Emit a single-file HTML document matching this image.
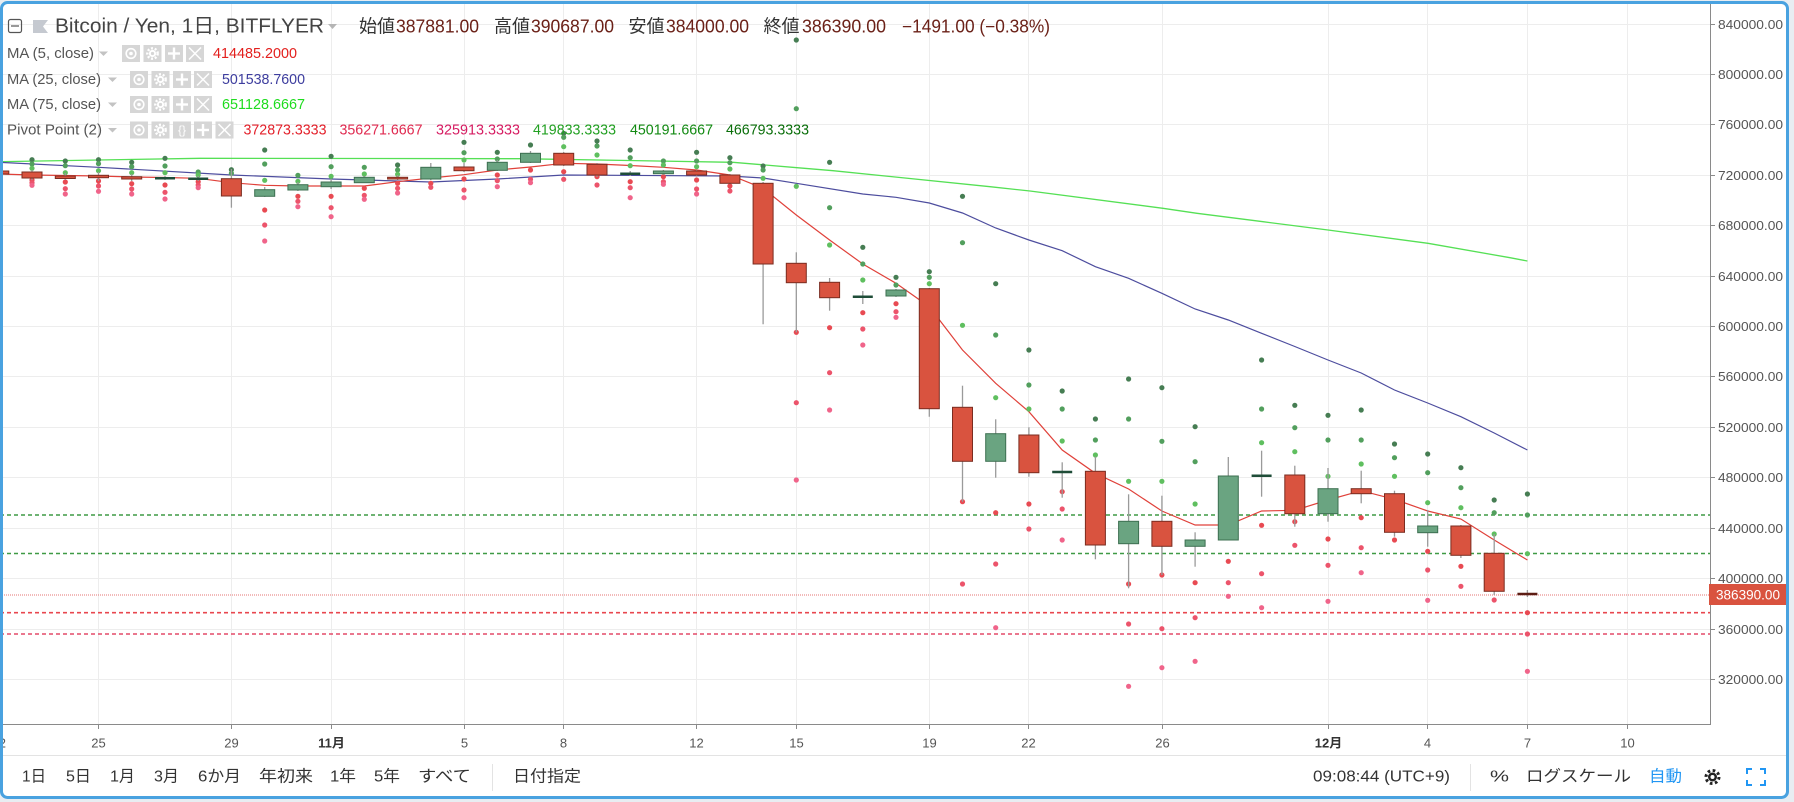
<!DOCTYPE html>
<html><head><meta charset="utf-8">
<style>
html,body{margin:0;padding:0;background:#e8edf2;}
body{width:1794px;height:802px;overflow:hidden;}
svg{display:block;font-family:"Liberation Sans","Noto Sans CJK JP",sans-serif;}
.grid line{stroke:#ededed;stroke-width:1}
.g3{fill:#467d53}.g2{fill:#529f5d}.g1{fill:#5fbf5f}
.s1{fill:#e84a52}.s2{fill:#ec546b}.s3{fill:#f0648a}
.cr{fill:#d9533f;stroke:#7a2c20;stroke-width:1}
.cg{fill:#6aa481;stroke:#3c6f50;stroke-width:1}
.wk{stroke:#9a9a9a;stroke-width:1.3}
.fg{stroke:#1f4d38;stroke-width:2.5}
.fr{stroke:#5d1d14;stroke-width:2.5}
.ax{fill:#555;font-size:13px}
.ib{fill:#d6d6d6}
.iw{stroke:#fff;fill:none}
</style></head>
<body>
<svg width="1794" height="802" viewBox="0 0 1794 802" xmlns="http://www.w3.org/2000/svg">
<defs>
<clipPath id="ca"><rect x="3" y="4" width="1707" height="720"/></clipPath>
</defs>
<rect x="1.5" y="2.5" width="1786" height="795" rx="6" fill="#fff"/>

<g clip-path="url(#ca)">
<g class="grid">
<line x1="0" x2="1710" y1="24.5" y2="24.5"/><line x1="0" x2="1710" y1="74.5" y2="74.5"/>
<line x1="0" x2="1710" y1="124.5" y2="124.5"/><line x1="0" x2="1710" y1="175.5" y2="175.5"/>
<line x1="0" x2="1710" y1="225.5" y2="225.5"/><line x1="0" x2="1710" y1="276.5" y2="276.5"/>
<line x1="0" x2="1710" y1="326.5" y2="326.5"/><line x1="0" x2="1710" y1="376.5" y2="376.5"/>
<line x1="0" x2="1710" y1="427.5" y2="427.5"/><line x1="0" x2="1710" y1="477.5" y2="477.5"/>
<line x1="0" x2="1710" y1="528.5" y2="528.5"/><line x1="0" x2="1710" y1="578.5" y2="578.5"/>
<line x1="0" x2="1710" y1="629.5" y2="629.5"/><line x1="0" x2="1710" y1="679.5" y2="679.5"/>
<line y1="0" y2="724" x1="98.5" x2="98.5"/><line y1="0" y2="724" x1="231.5" x2="231.5"/>
<line y1="0" y2="724" x1="331.5" x2="331.5"/><line y1="0" y2="724" x1="464.5" x2="464.5"/>
<line y1="0" y2="724" x1="563.5" x2="563.5"/><line y1="0" y2="724" x1="696.5" x2="696.5"/>
<line y1="0" y2="724" x1="796.5" x2="796.5"/><line y1="0" y2="724" x1="929.5" x2="929.5"/>
<line y1="0" y2="724" x1="1028.5" x2="1028.5"/><line y1="0" y2="724" x1="1162.5" x2="1162.5"/>
<line y1="0" y2="724" x1="1328.5" x2="1328.5"/><line y1="0" y2="724" x1="1427.5" x2="1427.5"/>
<line y1="0" y2="724" x1="1527.5" x2="1527.5"/><line y1="0" y2="724" x1="1627.5" x2="1627.5"/>
</g>

<!-- pivot lines -->
<line x1="0" x2="1710" y1="515" y2="515" stroke="#3f9a45" stroke-width="1.6" stroke-dasharray="4,3"/>
<line x1="0" x2="1710" y1="553.5" y2="553.5" stroke="#3f9a45" stroke-width="1.6" stroke-dasharray="4,3"/>
<line x1="0" x2="1710" y1="612.7" y2="612.7" stroke="#e8474f" stroke-width="1.6" stroke-dasharray="4,3"/>
<line x1="0" x2="1710" y1="634" y2="634" stroke="#e44a68" stroke-width="1.6" stroke-dasharray="4,3"/>
<line x1="0" x2="1710" y1="595" y2="595" stroke="#e57373" stroke-width="1" stroke-dasharray="1,1"/>

<!-- MA lines -->
<polyline fill="none" stroke="#55e055" stroke-width="1.3" points="-1.2,161.7 200,158.3 520,158.7 733,162.3 797,167.7 833,170.7 990,186.7 1030,191 1163,208.3 1197,213.3 1263,221.7 1328,230 1428,243.3 1510,257.7 1527.4,261"/>
<polyline fill="none" stroke="#4d4d9e" stroke-width="1.2" points="-1.2,162.3 98.5,167.3 231.4,175 331.1,179 430.8,182 497.3,179 563.7,175 729.9,176 763.1,178 796.3,183.3 862.8,194 896,197.3 929.3,203 962.5,213 995.7,228 1028.9,240 1062.2,250.7 1095.4,266.7 1128.6,278.3 1161.9,293.3 1195.1,309 1228.3,320 1261.6,333.3 1294.8,346.5 1328,360 1361.2,373 1394.5,390 1427.7,403 1460.9,416.7 1494.2,433 1527.4,450"/>
<polyline fill="none" stroke="#e0413a" stroke-width="1.2" points="-1.2,174 32,175 65.3,175.5 98.5,176 131.7,177 165,177.5 198.2,178.3 231.4,182.7 264.7,185.3 297.9,186 331.1,186 364.3,186 397.6,181.7 430.8,178 464,174.7 497.3,170 530.5,167 563.7,163.3 597,164 630.2,165.5 663.4,167.3 696.6,170 729.9,175 763.1,188.3 796.3,215 829.6,240 862.8,264 896,283.3 929.3,306.7 962.5,350 995.7,383.3 1028.9,411.7 1062.2,450 1095.4,473.3 1128.6,489 1161.9,511 1195.1,525 1228.3,525 1261.6,511 1294.8,510.3 1328,500 1361.2,490.7 1394.5,499.3 1427.7,511 1460.9,519 1494.2,540 1527.4,560"/>

<!-- pivot dots -->
<g>
<circle class="g3" cx="32" cy="159.7" r="2.6"/><circle class="g2" cx="32" cy="164" r="2.6"/><circle class="g1" cx="32" cy="168.3" r="2.6"/><circle class="s1" cx="32" cy="180" r="2.6"/><circle class="s2" cx="32" cy="182.7" r="2.6"/><circle class="s3" cx="32" cy="185.3" r="2.6"/>
<circle class="g3" cx="65.3" cy="161" r="2.6"/><circle class="g2" cx="65.3" cy="165.7" r="2.6"/><circle class="g1" cx="65.3" cy="172.7" r="2.6"/><circle class="s1" cx="65.3" cy="182" r="2.6"/><circle class="s2" cx="65.3" cy="188.7" r="2.6"/><circle class="s3" cx="65.3" cy="194" r="2.6"/>
<circle class="g3" cx="98.5" cy="159.7" r="2.6"/><circle class="g2" cx="98.5" cy="163.7" r="2.6"/><circle class="g1" cx="98.5" cy="170.7" r="2.6"/><circle class="s1" cx="98.5" cy="181" r="2.6"/><circle class="s2" cx="98.5" cy="186" r="2.6"/><circle class="s3" cx="98.5" cy="191.3" r="2.6"/>
<circle class="g3" cx="131.7" cy="162.3" r="2.6"/><circle class="g2" cx="131.7" cy="166.7" r="2.6"/><circle class="g1" cx="131.7" cy="172.7" r="2.6"/><circle class="s1" cx="131.7" cy="183.7" r="2.6"/><circle class="s2" cx="131.7" cy="189" r="2.6"/><circle class="s3" cx="131.7" cy="194" r="2.6"/>
<circle class="g3" cx="165" cy="158.3" r="2.6"/><circle class="g2" cx="165" cy="166" r="2.6"/><circle class="g1" cx="165" cy="172.7" r="2.6"/><circle class="s1" cx="165" cy="185" r="2.6"/><circle class="s2" cx="165" cy="192.3" r="2.6"/><circle class="s3" cx="165" cy="199" r="2.6"/>
<circle class="g2" cx="198.2" cy="172" r="2.6"/><circle class="g1" cx="198.2" cy="175" r="2.6"/><circle class="s1" cx="198.2" cy="181.7" r="2.6"/><circle class="s2" cx="198.2" cy="185" r="2.6"/><circle class="s3" cx="198.2" cy="187.7" r="2.6"/>
<circle class="g3" cx="231.4" cy="169.7" r="2.6"/><circle class="g2" cx="231.4" cy="173.3" r="2.6"/>
<circle class="g3" cx="264.7" cy="150" r="2.6"/><circle class="g2" cx="264.7" cy="164" r="2.6"/><circle class="g1" cx="264.7" cy="180.3" r="2.6"/><circle class="s1" cx="264.7" cy="210" r="2.6"/><circle class="s2" cx="264.7" cy="225" r="2.6"/><circle class="s3" cx="264.7" cy="241" r="2.6"/>
<circle class="g2" cx="297.9" cy="175.3" r="2.6"/><circle class="g1" cx="297.9" cy="181.3" r="2.6"/><circle class="s1" cx="297.9" cy="196.3" r="2.6"/><circle class="s2" cx="297.9" cy="201.3" r="2.6"/><circle class="s3" cx="297.9" cy="206.7" r="2.6"/>
<circle class="g3" cx="331.1" cy="156.3" r="2.6"/><circle class="g2" cx="331.1" cy="166.7" r="2.6"/><circle class="g1" cx="331.1" cy="176.3" r="2.6"/><circle class="s1" cx="331.1" cy="196.3" r="2.6"/><circle class="s2" cx="331.1" cy="207.7" r="2.6"/><circle class="s3" cx="331.1" cy="216.7" r="2.6"/>
<circle class="g2" cx="364.3" cy="167.3" r="2.6"/><circle class="g1" cx="364.3" cy="174" r="2.6"/><circle class="s1" cx="364.3" cy="188.3" r="2.6"/><circle class="s2" cx="364.3" cy="195.3" r="2.6"/><circle class="s3" cx="364.3" cy="199.3" r="2.6"/>
<circle class="g3" cx="397.6" cy="165" r="2.6"/><circle class="g2" cx="397.6" cy="170" r="2.6"/><circle class="g1" cx="397.6" cy="174.3" r="2.6"/><circle class="s1" cx="397.6" cy="183.3" r="2.6"/><circle class="s2" cx="397.6" cy="188.3" r="2.6"/><circle class="s3" cx="397.6" cy="193" r="2.6"/>
<circle class="s1" cx="430.8" cy="183.3" r="2.6"/><circle class="s2" cx="430.8" cy="187.3" r="2.6"/>
<circle class="g3" cx="464" cy="142.3" r="2.6"/><circle class="g2" cx="464" cy="152.7" r="2.6"/><circle class="g1" cx="464" cy="160" r="2.6"/><circle class="s1" cx="464" cy="179" r="2.6"/><circle class="s2" cx="464" cy="190" r="2.6"/><circle class="s3" cx="464" cy="197.7" r="2.6"/>
<circle class="g3" cx="497.3" cy="152.3" r="2.6"/><circle class="g2" cx="497.3" cy="159" r="2.6"/><circle class="s1" cx="497.3" cy="175" r="2.6"/><circle class="s2" cx="497.3" cy="180.7" r="2.6"/><circle class="s3" cx="497.3" cy="186.7" r="2.6"/>
<circle class="g3" cx="530.5" cy="145" r="2.6"/><circle class="s1" cx="530.5" cy="170" r="2.6"/><circle class="s2" cx="530.5" cy="179.3" r="2.6"/><circle class="s3" cx="530.5" cy="182.7" r="2.6"/>
<circle class="g3" cx="563.7" cy="133.3" r="2.6"/><circle class="g2" cx="563.7" cy="137.3" r="2.6"/><circle class="g1" cx="563.7" cy="146.7" r="2.6"/><circle class="s1" cx="563.7" cy="171.7" r="2.6"/><circle class="s2" cx="563.7" cy="179.3" r="2.6"/>
<circle class="g3" cx="597" cy="141" r="2.6"/><circle class="g2" cx="597" cy="146" r="2.6"/><circle class="g1" cx="597" cy="155" r="2.6"/><circle class="s1" cx="597" cy="176.7" r="2.6"/><circle class="s2" cx="597" cy="185" r="2.6"/>
<circle class="g3" cx="630.2" cy="150" r="2.6"/><circle class="g2" cx="630.2" cy="157.7" r="2.6"/><circle class="g1" cx="630.2" cy="165.7" r="2.6"/><circle class="s1" cx="630.2" cy="181.7" r="2.6"/><circle class="s2" cx="630.2" cy="187.7" r="2.6"/><circle class="s3" cx="630.2" cy="197.7" r="2.6"/>
<circle class="g2" cx="663.4" cy="161" r="2.6"/><circle class="g1" cx="663.4" cy="165" r="2.6"/><circle class="s1" cx="663.4" cy="176.7" r="2.6"/><circle class="s2" cx="663.4" cy="181.7" r="2.6"/><circle class="s3" cx="663.4" cy="184.3" r="2.6"/>
<circle class="g3" cx="696.6" cy="152.3" r="2.6"/><circle class="g2" cx="696.6" cy="161" r="2.6"/><circle class="g1" cx="696.6" cy="166.7" r="2.6"/><circle class="s1" cx="696.6" cy="180" r="2.6"/><circle class="s2" cx="696.6" cy="189" r="2.6"/><circle class="s3" cx="696.6" cy="194" r="2.6"/>
<circle class="g3" cx="729.9" cy="157.7" r="2.6"/><circle class="g2" cx="729.9" cy="162.7" r="2.6"/><circle class="g1" cx="729.9" cy="169" r="2.6"/><circle class="s1" cx="729.9" cy="186" r="2.6"/><circle class="s2" cx="729.9" cy="191" r="2.6"/>
<circle class="g3" cx="763.1" cy="166" r="2.6"/><circle class="g2" cx="763.1" cy="170" r="2.6"/><circle class="g1" cx="763.1" cy="178.3" r="2.6"/>
<circle class="g3" cx="796.3" cy="40" r="2.6"/><circle class="g2" cx="796.3" cy="108.7" r="2.6"/><circle class="g1" cx="796.3" cy="186.3" r="2.6"/><circle class="s1" cx="796.3" cy="332.3" r="2.6"/><circle class="s2" cx="796.3" cy="402.7" r="2.6"/><circle class="s3" cx="796.3" cy="480" r="2.6"/>
<circle class="g3" cx="829.6" cy="162.3" r="2.6"/><circle class="g2" cx="829.6" cy="207.7" r="2.6"/><circle class="g1" cx="829.6" cy="245" r="2.6"/><circle class="s1" cx="829.6" cy="327.7" r="2.6"/><circle class="s2" cx="829.6" cy="372.7" r="2.6"/><circle class="s3" cx="829.6" cy="410" r="2.6"/>
<circle class="g3" cx="862.8" cy="247.3" r="2.6"/><circle class="g2" cx="862.8" cy="264" r="2.6"/><circle class="g1" cx="862.8" cy="280" r="2.6"/><circle class="s1" cx="862.8" cy="312.7" r="2.6"/><circle class="s2" cx="862.8" cy="329" r="2.6"/><circle class="s3" cx="862.8" cy="345" r="2.6"/>
<circle class="g3" cx="896" cy="277.3" r="2.6"/><circle class="g2" cx="896" cy="285" r="2.6"/><circle class="s1" cx="896" cy="303.7" r="2.6"/><circle class="s2" cx="896" cy="311.7" r="2.6"/><circle class="s3" cx="896" cy="317.3" r="2.6"/>
<circle class="g3" cx="929.3" cy="271.7" r="2.6"/><circle class="g2" cx="929.3" cy="277.3" r="2.6"/><circle class="g1" cx="929.3" cy="283.7" r="2.6"/>
<circle class="g3" cx="962.5" cy="196.3" r="2.6"/><circle class="g2" cx="962.5" cy="242.7" r="2.6"/><circle class="g1" cx="962.5" cy="325.3" r="2.6"/><circle class="s1" cx="962.5" cy="501.7" r="2.6"/><circle class="s2" cx="962.5" cy="584" r="2.6"/>
<circle class="g3" cx="995.7" cy="283.7" r="2.6"/><circle class="g2" cx="995.7" cy="335" r="2.6"/><circle class="g1" cx="995.7" cy="397.7" r="2.6"/><circle class="s1" cx="995.7" cy="512.7" r="2.6"/><circle class="s2" cx="995.7" cy="564" r="2.6"/><circle class="s3" cx="995.7" cy="627.7" r="2.6"/>
<circle class="g3" cx="1028.9" cy="350" r="2.6"/><circle class="g2" cx="1028.9" cy="385" r="2.6"/><circle class="g1" cx="1028.9" cy="409" r="2.6"/><circle class="s1" cx="1028.9" cy="504" r="2.6"/><circle class="s2" cx="1028.9" cy="529" r="2.6"/>
<circle class="g3" cx="1062.2" cy="391" r="2.6"/><circle class="g2" cx="1062.2" cy="409" r="2.6"/><circle class="g1" cx="1062.2" cy="441" r="2.6"/><circle class="s1" cx="1062.2" cy="491.7" r="2.6"/><circle class="s2" cx="1062.2" cy="509" r="2.6"/><circle class="s3" cx="1062.2" cy="540" r="2.6"/>
<circle class="g3" cx="1095.4" cy="419" r="2.6"/><circle class="g2" cx="1095.4" cy="440" r="2.6"/><circle class="g1" cx="1095.4" cy="455" r="2.6"/>
<circle class="g3" cx="1128.6" cy="379" r="2.6"/><circle class="g2" cx="1128.6" cy="419" r="2.6"/><circle class="g1" cx="1128.6" cy="481.3" r="2.6"/><circle class="s1" cx="1128.6" cy="584" r="2.6"/><circle class="s2" cx="1128.6" cy="624" r="2.6"/><circle class="s3" cx="1128.6" cy="686.3" r="2.6"/>
<circle class="g3" cx="1161.9" cy="387.7" r="2.6"/><circle class="g2" cx="1161.9" cy="441.3" r="2.6"/><circle class="g1" cx="1161.9" cy="481.3" r="2.6"/><circle class="s1" cx="1161.9" cy="575" r="2.6"/><circle class="s2" cx="1161.9" cy="628.7" r="2.6"/><circle class="s3" cx="1161.9" cy="667.7" r="2.6"/>
<circle class="g3" cx="1195.1" cy="426.7" r="2.6"/><circle class="g2" cx="1195.1" cy="461.7" r="2.6"/><circle class="g1" cx="1195.1" cy="504" r="2.6"/><circle class="s1" cx="1195.1" cy="582.7" r="2.6"/><circle class="s2" cx="1195.1" cy="617.7" r="2.6"/><circle class="s3" cx="1195.1" cy="661.3" r="2.6"/>
<circle class="s1" cx="1228.3" cy="561.3" r="2.6"/><circle class="s2" cx="1228.3" cy="582.7" r="2.6"/><circle class="s3" cx="1228.3" cy="596.3" r="2.6"/>
<circle class="g3" cx="1261.6" cy="360" r="2.6"/><circle class="g2" cx="1261.6" cy="409" r="2.6"/><circle class="g1" cx="1261.6" cy="442.7" r="2.6"/><circle class="s1" cx="1261.6" cy="525.3" r="2.6"/><circle class="s2" cx="1261.6" cy="573.7" r="2.6"/><circle class="s3" cx="1261.6" cy="607.7" r="2.6"/>
<circle class="g3" cx="1294.8" cy="405.3" r="2.6"/><circle class="g2" cx="1294.8" cy="427.7" r="2.6"/><circle class="g1" cx="1294.8" cy="451.7" r="2.6"/><circle class="s1" cx="1294.8" cy="521.7" r="2.6"/><circle class="s2" cx="1294.8" cy="545.3" r="2.6"/>
<circle class="g3" cx="1328" cy="415.3" r="2.6"/><circle class="g2" cx="1328" cy="440" r="2.6"/><circle class="g1" cx="1328" cy="476.3" r="2.6"/><circle class="s1" cx="1328" cy="539" r="2.6"/><circle class="s2" cx="1328" cy="565.3" r="2.6"/><circle class="s3" cx="1328" cy="601.3" r="2.6"/>
<circle class="g3" cx="1361.2" cy="410" r="2.6"/><circle class="g2" cx="1361.2" cy="440" r="2.6"/><circle class="g1" cx="1361.2" cy="464" r="2.6"/><circle class="s1" cx="1361.2" cy="517.7" r="2.6"/><circle class="s2" cx="1361.2" cy="547.7" r="2.6"/><circle class="s3" cx="1361.2" cy="572.7" r="2.6"/>
<circle class="g3" cx="1394.5" cy="444" r="2.6"/><circle class="g2" cx="1394.5" cy="457.7" r="2.6"/><circle class="g1" cx="1394.5" cy="476.3" r="2.6"/><circle class="s1" cx="1394.5" cy="540" r="2.6"/>
<circle class="g3" cx="1427.7" cy="454" r="2.6"/><circle class="g2" cx="1427.7" cy="472.7" r="2.6"/><circle class="g1" cx="1427.7" cy="502.7" r="2.6"/><circle class="s1" cx="1427.7" cy="551.3" r="2.6"/><circle class="s2" cx="1427.7" cy="570" r="2.6"/><circle class="s3" cx="1427.7" cy="600.3" r="2.6"/>
<circle class="g3" cx="1460.9" cy="467.7" r="2.6"/><circle class="g2" cx="1460.9" cy="487.7" r="2.6"/><circle class="g1" cx="1460.9" cy="507.7" r="2.6"/><circle class="s1" cx="1460.9" cy="566.3" r="2.6"/><circle class="s2" cx="1460.9" cy="586.3" r="2.6"/>
<circle class="g3" cx="1494.2" cy="500" r="2.6"/><circle class="g2" cx="1494.2" cy="512.7" r="2.6"/><circle class="g1" cx="1494.2" cy="534" r="2.6"/><circle class="s2" cx="1494.2" cy="600" r="2.6"/>
<circle class="g3" cx="1527.4" cy="494" r="2.6"/><circle class="g2" cx="1527.4" cy="515" r="2.6"/><circle class="g1" cx="1527.4" cy="553.7" r="2.6"/><circle class="s1" cx="1527.4" cy="612.7" r="2.6"/><circle class="s2" cx="1527.4" cy="634" r="2.6"/><circle class="s3" cx="1527.4" cy="671.3" r="2.6"/>
</g>

<!-- wicks -->
<g class="wk">
<line x1="-1.2" x2="-1.2" y1="170" y2="176"/><line x1="32" x2="32" y1="170" y2="180"/>
<line x1="65.3" x2="65.3" y1="173" y2="180"/><line x1="98.5" x2="98.5" y1="172" y2="181"/>
<line x1="131.7" x2="131.7" y1="174" y2="181"/><line x1="165" x2="165" y1="176" y2="180"/>
<line x1="198.2" x2="198.2" y1="176" y2="181"/><line x1="231.4" x2="231.4" y1="169" y2="207.7"/>
<line x1="264.7" x2="264.7" y1="187" y2="197"/><line x1="297.9" x2="297.9" y1="182" y2="191"/>
<line x1="331.1" x2="331.1" y1="179" y2="189"/><line x1="364.3" x2="364.3" y1="176" y2="183"/>
<line x1="397.6" x2="397.6" y1="175" y2="180"/><line x1="430.8" x2="430.8" y1="163" y2="180"/>
<line x1="464" x2="464" y1="163" y2="172"/><line x1="497.3" x2="497.3" y1="160" y2="171"/>
<line x1="530.5" x2="530.5" y1="151" y2="163"/><line x1="563.7" x2="563.7" y1="152" y2="166"/>
<line x1="597" x2="597" y1="163" y2="177"/><line x1="630.2" x2="630.2" y1="171" y2="176"/>
<line x1="663.4" x2="663.4" y1="170" y2="175"/><line x1="696.6" x2="696.6" y1="170" y2="176"/>
<line x1="729.9" x2="729.9" y1="174" y2="184"/><line x1="763.1" x2="763.1" y1="182" y2="324.3"/>
<line x1="796.3" x2="796.3" y1="252.3" y2="332.3"/><line x1="829.6" x2="829.6" y1="278" y2="310.7"/>
<line x1="862.8" x2="862.8" y1="291" y2="304"/><line x1="896" x2="896" y1="289" y2="297"/>
<line x1="929.3" x2="929.3" y1="288" y2="416.7"/><line x1="962.5" x2="962.5" y1="385.7" y2="501.7"/>
<line x1="995.7" x2="995.7" y1="419.3" y2="477.7"/><line x1="1028.9" x2="1028.9" y1="427.3" y2="476.7"/>
<line x1="1062.2" x2="1062.2" y1="462.3" y2="497.7"/><line x1="1095.4" x2="1095.4" y1="456.7" y2="559.3"/>
<line x1="1128.6" x2="1128.6" y1="494.3" y2="588.3"/><line x1="1161.9" x2="1161.9" y1="495.7" y2="575"/>
<line x1="1195.1" x2="1195.1" y1="532.3" y2="566.7"/><line x1="1228.3" x2="1228.3" y1="457" y2="540"/>
<line x1="1261.6" x2="1261.6" y1="450.7" y2="496.7"/><line x1="1294.8" x2="1294.8" y1="465.7" y2="526.7"/>
<line x1="1328" x2="1328" y1="468" y2="521.7"/><line x1="1361.2" x2="1361.2" y1="470.7" y2="503.3"/>
<line x1="1394.5" x2="1394.5" y1="490.7" y2="536.7"/><line x1="1427.7" x2="1427.7" y1="510" y2="546.7"/>
<line x1="1460.9" x2="1460.9" y1="525" y2="558"/><line x1="1494.2" x2="1494.2" y1="534" y2="595"/>
<line x1="1527.4" x2="1527.4" y1="590" y2="597"/>
</g>

<!-- bodies -->
<g>
<rect class="cr" x="-11.2" y="171" width="20" height="3"/>
<rect class="cr" x="22" y="172" width="20" height="6"/>
<rect class="cr" x="55.3" y="176" width="20" height="2.5"/>
<rect class="cr" x="88.5" y="175.3" width="20" height="2.4"/>
<rect class="cr" x="121.7" y="176.7" width="20" height="2.3"/>
<line class="fg" x1="155" x2="175" y1="178.3" y2="178.3"/>
<line class="fg" x1="188.2" x2="208.2" y1="178.7" y2="178.7"/>
<rect class="cr" x="221.4" y="178.7" width="20" height="17.3"/>
<rect class="cg" x="254.7" y="189.7" width="20" height="6.6"/>
<rect class="cg" x="287.9" y="184.7" width="20" height="5.3"/>
<rect class="cg" x="321.1" y="182" width="20" height="4.7"/>
<rect class="cg" x="354.3" y="177.3" width="20" height="5.4"/>
<rect class="cr" x="387.6" y="177.3" width="20" height="1.7"/>
<rect class="cg" x="420.8" y="167.3" width="20" height="11.7"/>
<rect class="cr" x="454" y="167" width="20" height="3.7"/>
<rect class="cg" x="487.3" y="162.3" width="20" height="8"/>
<rect class="cg" x="520.5" y="153.3" width="20" height="9"/>
<rect class="cr" x="553.7" y="153.3" width="20" height="11.7"/>
<rect class="cr" x="587" y="164.3" width="20" height="10.7"/>
<line class="fg" x1="620.2" x2="640.2" y1="173.7" y2="173.7"/>
<rect class="cg" x="653.4" y="171" width="20" height="2.7"/>
<rect class="cr" x="686.6" y="171" width="20" height="4"/>
<rect class="cr" x="719.9" y="175" width="20" height="8.3"/>
<rect class="cr" x="753.1" y="183.3" width="20" height="80.7"/>
<rect class="cr" x="786.3" y="263.3" width="20" height="19.4"/>
<rect class="cr" x="819.6" y="282.3" width="20" height="15.4"/>
<line class="fg" x1="852.8" x2="872.8" y1="296.7" y2="296.7"/>
<rect class="cg" x="886" y="290" width="20" height="6"/>
<rect class="cr" x="919.3" y="288.7" width="20" height="120"/>
<rect class="cr" x="952.5" y="407.3" width="20" height="54"/>
<rect class="cg" x="985.7" y="433.7" width="20" height="27.6"/>
<rect class="cr" x="1018.9" y="435" width="20" height="37.7"/>
<line class="fg" x1="1052.2" x2="1072.2" y1="472" y2="472"/>
<rect class="cr" x="1085.4" y="471.3" width="20" height="73.7"/>
<rect class="cg" x="1118.6" y="521.3" width="20" height="22.4"/>
<rect class="cr" x="1151.9" y="521.3" width="20" height="25"/>
<rect class="cg" x="1185.1" y="540" width="20" height="6.3"/>
<rect class="cg" x="1218.3" y="476" width="20" height="64"/>
<line class="fg" x1="1251.6" x2="1271.6" y1="475.7" y2="475.7"/>
<rect class="cr" x="1284.8" y="475" width="20" height="38.7"/>
<rect class="cg" x="1318" y="488.7" width="20" height="25"/>
<rect class="cr" x="1351.2" y="488.7" width="20" height="5"/>
<rect class="cr" x="1384.5" y="493.7" width="20" height="38.6"/>
<rect class="cg" x="1417.7" y="526" width="20" height="6.7"/>
<rect class="cr" x="1450.9" y="526" width="20" height="29.3"/>
<rect class="cr" x="1484.2" y="553.3" width="20" height="38"/>
<line class="fr" x1="1517.4" x2="1537.4" y1="594" y2="594"/>
</g>
</g>

<!-- axes -->
<line x1="1710.5" x2="1710.5" y1="4" y2="724" stroke="#8a8a8a" stroke-width="1"/>
<line x1="3" x2="1711" y1="724.5" y2="724.5" stroke="#8a8a8a" stroke-width="1"/>
<g stroke="#8a8a8a" stroke-width="1">
<line x1="1710" x2="1715" y1="24.5" y2="24.5"/><line x1="1710" x2="1715" y1="74.5" y2="74.5"/>
<line x1="1710" x2="1715" y1="124.5" y2="124.5"/><line x1="1710" x2="1715" y1="175.5" y2="175.5"/>
<line x1="1710" x2="1715" y1="225.5" y2="225.5"/><line x1="1710" x2="1715" y1="276.5" y2="276.5"/>
<line x1="1710" x2="1715" y1="326.5" y2="326.5"/><line x1="1710" x2="1715" y1="376.5" y2="376.5"/>
<line x1="1710" x2="1715" y1="427.5" y2="427.5"/><line x1="1710" x2="1715" y1="477.5" y2="477.5"/>
<line x1="1710" x2="1715" y1="528.5" y2="528.5"/><line x1="1710" x2="1715" y1="578.5" y2="578.5"/>
<line x1="1710" x2="1715" y1="629.5" y2="629.5"/><line x1="1710" x2="1715" y1="679.5" y2="679.5"/>
<line y1="724" y2="729" x1="98.5" x2="98.5"/><line y1="724" y2="729" x1="231.5" x2="231.5"/>
<line y1="724" y2="729" x1="331.5" x2="331.5"/><line y1="724" y2="729" x1="464.5" x2="464.5"/>
<line y1="724" y2="729" x1="563.5" x2="563.5"/><line y1="724" y2="729" x1="696.5" x2="696.5"/>
<line y1="724" y2="729" x1="796.5" x2="796.5"/><line y1="724" y2="729" x1="929.5" x2="929.5"/>
<line y1="724" y2="729" x1="1028.5" x2="1028.5"/><line y1="724" y2="729" x1="1162.5" x2="1162.5"/>
<line y1="724" y2="729" x1="1328.5" x2="1328.5"/><line y1="724" y2="729" x1="1427.5" x2="1427.5"/>
<line y1="724" y2="729" x1="1527.5" x2="1527.5"/><line y1="724" y2="729" x1="1627.5" x2="1627.5"/>
</g>
<g class="ax" dominant-baseline="central">
<text x="1718" y="24.5" textLength="65" lengthAdjust="spacingAndGlyphs">840000.00</text>
<text x="1718" y="74.5" textLength="65" lengthAdjust="spacingAndGlyphs">800000.00</text>
<text x="1718" y="124.5" textLength="65" lengthAdjust="spacingAndGlyphs">760000.00</text>
<text x="1718" y="175.5" textLength="65" lengthAdjust="spacingAndGlyphs">720000.00</text>
<text x="1718" y="225.5" textLength="65" lengthAdjust="spacingAndGlyphs">680000.00</text>
<text x="1718" y="276.5" textLength="65" lengthAdjust="spacingAndGlyphs">640000.00</text>
<text x="1718" y="326.5" textLength="65" lengthAdjust="spacingAndGlyphs">600000.00</text>
<text x="1718" y="376.5" textLength="65" lengthAdjust="spacingAndGlyphs">560000.00</text>
<text x="1718" y="427.5" textLength="65" lengthAdjust="spacingAndGlyphs">520000.00</text>
<text x="1718" y="477.5" textLength="65" lengthAdjust="spacingAndGlyphs">480000.00</text>
<text x="1718" y="528.5" textLength="65" lengthAdjust="spacingAndGlyphs">440000.00</text>
<text x="1718" y="578.5" textLength="65" lengthAdjust="spacingAndGlyphs">400000.00</text>
<text x="1718" y="629.5" textLength="65" lengthAdjust="spacingAndGlyphs">360000.00</text>
<text x="1718" y="679.5" textLength="65" lengthAdjust="spacingAndGlyphs">320000.00</text>
</g>
<rect x="1709" y="584" width="77" height="21" fill="#d9533f"/>
<text x="1716" y="594.5" dominant-baseline="central" font-size="14" fill="#fff" textLength="64" lengthAdjust="spacingAndGlyphs">386390.00</text>

<g class="ax" text-anchor="middle" dominant-baseline="central">
<text x="-1.2" y="743">22</text>
<text x="98.5" y="743">25</text>
<text x="231.5" y="743">29</text>
<text x="331.5" y="743" font-weight="bold" fill="#333">11月</text>
<text x="464.5" y="743">5</text>
<text x="563.5" y="743">8</text>
<text x="696.5" y="743">12</text>
<text x="796.5" y="743">15</text>
<text x="929.5" y="743">19</text>
<text x="1028.5" y="743">22</text>
<text x="1162.5" y="743">26</text>
<text x="1328.5" y="743" font-weight="bold" fill="#333">12月</text>
<text x="1427.5" y="743">4</text>
<text x="1527.5" y="743">7</text>
<text x="1627.5" y="743">10</text>
</g>

<!-- bottom toolbar -->
<line x1="3" x2="1786" y1="755.5" y2="755.5" stroke="#e3e3e3"/>
<line x1="492.5" x2="492.5" y1="764" y2="791" stroke="#e3e3e3"/>
<line x1="1470.5" x2="1470.5" y1="764" y2="791" stroke="#e3e3e3"/>
<g font-size="16" fill="#333" dominant-baseline="central">
<text x="22" y="777" textLength="24" lengthAdjust="spacingAndGlyphs">1日</text>
<text x="66" y="777" textLength="25" lengthAdjust="spacingAndGlyphs">5日</text>
<text x="110" y="777" textLength="25" lengthAdjust="spacingAndGlyphs">1月</text>
<text x="154" y="777" textLength="25" lengthAdjust="spacingAndGlyphs">3月</text>
<text x="198" y="777" textLength="43" lengthAdjust="spacingAndGlyphs">6か月</text>
<text x="259" y="777" textLength="54" lengthAdjust="spacingAndGlyphs">年初来</text>
<text x="330" y="777" textLength="26" lengthAdjust="spacingAndGlyphs">1年</text>
<text x="374" y="777" textLength="26" lengthAdjust="spacingAndGlyphs">5年</text>
<text x="418" y="777" textLength="53" lengthAdjust="spacingAndGlyphs">すべて</text>
<text x="513" y="777" textLength="68" lengthAdjust="spacingAndGlyphs">日付指定</text>
<text x="1313" y="777" textLength="137" lengthAdjust="spacingAndGlyphs" font-size="16">09:08:44 (UTC+9)</text>
<text x="1490" y="777" textLength="19" lengthAdjust="spacingAndGlyphs">%</text>
<text x="1526" y="777" textLength="105" lengthAdjust="spacingAndGlyphs">ログスケール</text>
<text x="1649" y="777" textLength="33" lengthAdjust="spacingAndGlyphs" fill="#2196f3">自動</text>
</g>
<circle cx="1712.5" cy="777" r="6.5" fill="none" stroke="#222" stroke-width="3" stroke-dasharray="2.6,2.5"/>
<circle cx="1712.5" cy="777" r="4.5" fill="#222"/>
<circle cx="1712.5" cy="777" r="2" fill="#fff"/>
<g stroke="#2196f3" stroke-width="2" fill="none">
<polyline points="1747,774 1747,769 1752,769"/><polyline points="1760,769 1765,769 1765,774"/>
<polyline points="1747,780 1747,785 1752,785"/><polyline points="1760,785 1765,785 1765,780"/>
</g>

<!-- header -->
<rect x="8.5" y="19.5" width="13" height="13" rx="2" fill="none" stroke="#555" stroke-width="1.2"/>
<line x1="11" x2="19" y1="26" y2="26" stroke="#555" stroke-width="1.2"/>
<polygon points="33,20 48,20 43,26.5 48,33 33,33" fill="#c5c9d0"/>
<g dominant-baseline="central">
<text x="55" y="26.5" font-size="20" fill="#444" textLength="269" lengthAdjust="spacingAndGlyphs">Bitcoin / Yen, 1日, BITFLYER</text>
<polygon points="328,24 337,24 332.5,29" fill="#b5b5b5"/>
<text x="359" y="26.5" font-size="18" fill="#333" textLength="36" lengthAdjust="spacingAndGlyphs">始値</text>
<text x="396" y="26.5" font-size="18" fill="#6b2118" textLength="83" lengthAdjust="spacingAndGlyphs">387881.00</text>
<text x="494" y="26.5" font-size="18" fill="#333" textLength="36" lengthAdjust="spacingAndGlyphs">高値</text>
<text x="531" y="26.5" font-size="18" fill="#6b2118" textLength="83" lengthAdjust="spacingAndGlyphs">390687.00</text>
<text x="628.5" y="26.5" font-size="18" fill="#333" textLength="36" lengthAdjust="spacingAndGlyphs">安値</text>
<text x="666" y="26.5" font-size="18" fill="#6b2118" textLength="83" lengthAdjust="spacingAndGlyphs">384000.00</text>
<text x="763.5" y="26.5" font-size="18" fill="#333" textLength="36" lengthAdjust="spacingAndGlyphs">終値</text>
<text x="802" y="26.5" font-size="18" fill="#6b2118" textLength="84" lengthAdjust="spacingAndGlyphs">386390.00</text>
<text x="902" y="26.5" font-size="18" fill="#6b2118" textLength="148" lengthAdjust="spacingAndGlyphs">−1491.00 (−0.38%)</text>

<text x="7" y="53.5" font-size="15" fill="#555" textLength="87" lengthAdjust="spacingAndGlyphs">MA (5, close)</text>
<text x="7" y="79.5" font-size="15" fill="#555" textLength="94" lengthAdjust="spacingAndGlyphs">MA (25, close)</text>
<text x="7" y="104.5" font-size="15" fill="#555" textLength="94" lengthAdjust="spacingAndGlyphs">MA (75, close)</text>
<text x="7" y="130" font-size="15" fill="#555" textLength="95" lengthAdjust="spacingAndGlyphs">Pivot Point (2)</text>
</g>
<g fill="#c3c3c3">
<polygon points="99,51.5 108,51.5 103.5,56"/>
<polygon points="108,77.5 117,77.5 112.5,82"/>
<polygon points="108,102.5 117,102.5 112.5,107"/>
<polygon points="108,128 117,128 112.5,132.5"/>
</g>

<!-- icon boxes -->
<g>
<rect class="ib" x="122" y="45" width="18" height="17"/><rect class="ib" x="143.5" y="45" width="18" height="17"/><rect class="ib" x="165" y="45" width="18" height="17"/><rect class="ib" x="186" y="45" width="18" height="17"/>
<circle class="iw" cx="131" cy="53.5" r="4.8" stroke-width="1.6"/><circle cx="131" cy="53.5" r="1.8" fill="#fff"/>
<circle cx="152.5" cy="53.5" r="5.2" fill="none" stroke="#fff" stroke-width="2.4" stroke-dasharray="2,1.8"/><circle cx="152.5" cy="53.5" r="3.6" fill="#fff"/><circle cx="152.5" cy="53.5" r="1.6" fill="#d6d6d6"/>
<line class="iw" x1="168" x2="180" y1="53.5" y2="53.5" stroke-width="2.4"/><line class="iw" x1="174" x2="174" y1="47.5" y2="59.5" stroke-width="2.4"/>
<line class="iw" x1="189" x2="201" y1="47.5" y2="59.5" stroke-width="1.5"/><line class="iw" x1="201" x2="189" y1="47.5" y2="59.5" stroke-width="1.5"/>
<rect class="ib" x="130" y="71" width="18" height="17"/><rect class="ib" x="151.5" y="71" width="18" height="17"/><rect class="ib" x="173" y="71" width="18" height="17"/><rect class="ib" x="194" y="71" width="18" height="17"/>
<circle class="iw" cx="139" cy="79.5" r="4.8" stroke-width="1.6"/><circle cx="139" cy="79.5" r="1.8" fill="#fff"/>
<circle cx="160.5" cy="79.5" r="5.2" fill="none" stroke="#fff" stroke-width="2.4" stroke-dasharray="2,1.8"/><circle cx="160.5" cy="79.5" r="3.6" fill="#fff"/><circle cx="160.5" cy="79.5" r="1.6" fill="#d6d6d6"/>
<line class="iw" x1="176" x2="188" y1="79.5" y2="79.5" stroke-width="2.4"/><line class="iw" x1="182" x2="182" y1="73.5" y2="85.5" stroke-width="2.4"/>
<line class="iw" x1="197" x2="209" y1="73.5" y2="85.5" stroke-width="1.5"/><line class="iw" x1="209" x2="197" y1="73.5" y2="85.5" stroke-width="1.5"/>
<rect class="ib" x="130" y="96" width="18" height="17"/><rect class="ib" x="151.5" y="96" width="18" height="17"/><rect class="ib" x="173" y="96" width="18" height="17"/><rect class="ib" x="194" y="96" width="18" height="17"/>
<circle class="iw" cx="139" cy="104.5" r="4.8" stroke-width="1.6"/><circle cx="139" cy="104.5" r="1.8" fill="#fff"/>
<circle cx="160.5" cy="104.5" r="5.2" fill="none" stroke="#fff" stroke-width="2.4" stroke-dasharray="2,1.8"/><circle cx="160.5" cy="104.5" r="3.6" fill="#fff"/><circle cx="160.5" cy="104.5" r="1.6" fill="#d6d6d6"/>
<line class="iw" x1="176" x2="188" y1="104.5" y2="104.5" stroke-width="2.4"/><line class="iw" x1="182" x2="182" y1="98.5" y2="110.5" stroke-width="2.4"/>
<line class="iw" x1="197" x2="209" y1="98.5" y2="110.5" stroke-width="1.5"/><line class="iw" x1="209" x2="197" y1="98.5" y2="110.5" stroke-width="1.5"/>
<rect class="ib" x="130" y="121.5" width="18" height="17"/><rect class="ib" x="151.5" y="121.5" width="18" height="17"/><rect class="ib" x="173" y="121.5" width="18" height="17"/><rect class="ib" x="194" y="121.5" width="18" height="17"/><rect class="ib" x="215.5" y="121.5" width="18" height="17"/>
<circle class="iw" cx="139" cy="130" r="4.8" stroke-width="1.6"/><circle cx="139" cy="130" r="1.8" fill="#fff"/>
<circle cx="160.5" cy="130" r="5.2" fill="none" stroke="#fff" stroke-width="2.4" stroke-dasharray="2,1.8"/><circle cx="160.5" cy="130" r="3.6" fill="#fff"/><circle cx="160.5" cy="130" r="1.6" fill="#d6d6d6"/>
<text x="182" y="130" font-size="12" fill="#fff" text-anchor="middle" dominant-baseline="central">{}</text>
<line class="iw" x1="197" x2="209" y1="130" y2="130" stroke-width="2.4"/><line class="iw" x1="203" x2="203" y1="124" y2="136" stroke-width="2.4"/>
<line class="iw" x1="218.5" x2="230.5" y1="124" y2="136" stroke-width="1.5"/><line class="iw" x1="230.5" x2="218.5" y1="124" y2="136" stroke-width="1.5"/>
</g>

<g font-size="15" dominant-baseline="central">
<text x="213" y="53.5" fill="#e3201e" textLength="84" lengthAdjust="spacingAndGlyphs">414485.2000</text>
<text x="222" y="79.5" fill="#3d3d9e" textLength="83" lengthAdjust="spacingAndGlyphs">501538.7600</text>
<text x="222" y="104.5" fill="#1fdc1f" textLength="83" lengthAdjust="spacingAndGlyphs">651128.6667</text>
<text x="243.5" y="130" fill="#e3202a" textLength="83" lengthAdjust="spacingAndGlyphs">372873.3333</text>
<text x="339.5" y="130" fill="#e02a50" textLength="83" lengthAdjust="spacingAndGlyphs">356271.6667</text>
<text x="436" y="130" fill="#d61c62" textLength="84" lengthAdjust="spacingAndGlyphs">325913.3333</text>
<text x="533" y="130" fill="#22a022" textLength="83" lengthAdjust="spacingAndGlyphs">419833.3333</text>
<text x="630" y="130" fill="#128a12" textLength="83" lengthAdjust="spacingAndGlyphs">450191.6667</text>
<text x="726" y="130" fill="#0a6e0a" textLength="83" lengthAdjust="spacingAndGlyphs">466793.3333</text>
</g>

<!-- frame border -->
<rect x="1.5" y="2.5" width="1786" height="795" rx="6" fill="none" stroke="#49a2e0" stroke-width="3"/>
</svg>
</body></html>
